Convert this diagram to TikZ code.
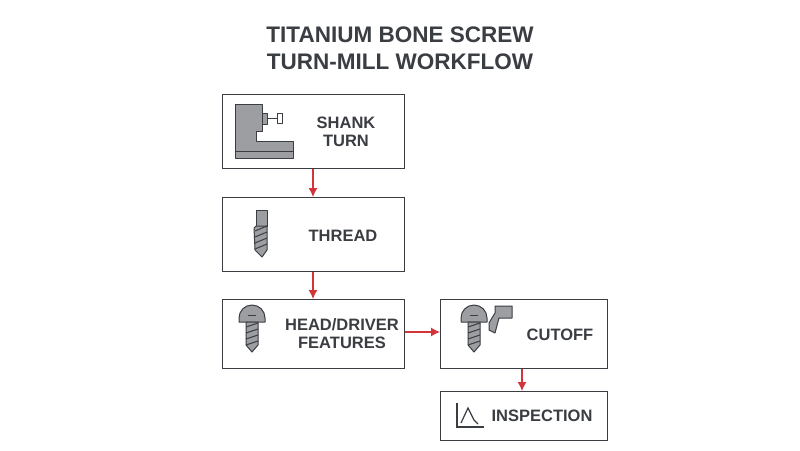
\documentclass[tikz,border=0pt]{standalone}
\usepackage{fontspec}
\setmainfont{Liberation Sans}
\usetikzlibrary{arrows.meta}
\begin{document}
\begin{tikzpicture}[x=1pt,y=-1pt,
 box/.style={draw=dk,line width=1.4pt,fill=white},
 lab/.style={font=\bfseries\fontsize{16.5}{18}\selectfont,text=dk,align=center},
 arr/.style={draw=rd,line width=1.3pt,-{Latex[length=9pt,width=9pt]}},
 ic/.style={fill=gy,draw=dk,line width=1pt,line join=round}]
\definecolor{dk}{HTML}{3A3D42}\definecolor{gy}{HTML}{9C9EA2}\definecolor{rd}{HTML}{D2343A}
\useasboundingbox (0,0) rectangle (800,450);
\fill[white] (0,0) rectangle (800,450);
\node[font=\bfseries\fontsize{22.5}{27}\selectfont,text=dk,align=center] (title) at (400,48) {TITANIUM BONE SCREW\\TURN-MILL WORKFLOW};
\node[box,minimum width=182,minimum height=74,anchor=north west] (b1) at (222,94) {};
\node[box,minimum width=182,minimum height=74,anchor=north west] (b2) at (222,197) {};
\node[box,minimum width=182,minimum height=69,anchor=north west] (b3) at (222,299) {};
\node[box,minimum width=167,minimum height=69,anchor=north west] (b4) at (440,299) {};
\node[box,minimum width=167,minimum height=49,anchor=north west] (b5) at (440,391) {};
\node[lab] (t1) at (346,132) {SHANK\\TURN};
\node[lab] (t2) at (343,236) {THREAD};
\node[lab] (t3) at (342,334) {HEAD/DRIVER\\FEATURES};
\node[lab] (t4) at (560,335) {CUTOFF};
\node[lab] (t5) at (542,416) {INSPECTION};
\draw[arr] (b1.south-|313,0) -- (b2.north-|313,0);
\draw[arr] (b2.south-|313,0) -- (b3.north-|313,0);
\draw[arr] (b3.east|-0,332) -- (b4.west|-0,332);
\draw[arr] (b4.south-|522,0) -- (b5.north-|522,0);
% icon 1 lathe
\draw[ic] (235,104) -- (262,104) -- (262,131) -- (256,131) -- (256,141) -- (293,141) -- (293,158) -- (235,158) -- cycle;
\draw[dk,line width=1pt] (235,151) -- (293,151);
\draw[ic] (262,113) rectangle (267,124);
\draw[dk,line width=1pt] (267,118) -- (277,118);
\draw[ic,fill=white] (277,113) rectangle (282,123);
% icon 2 drill
\draw[ic] (256,210) rectangle (267,226);
\draw[ic] (256,226) -- (267,226) -- (267,250) -- (262,257) -- (255,250) -- (254,228) -- cycle;
\foreach \y in {231,237,243,249} \draw[dk,line width=1pt] (255,\y) -- (267,\y-5);
% screw icon
\newcommand\screwicon[2]{%
\draw[ic] (#1-13,#2+12) -- (#1-13,#2+8) arc[start angle=180,end angle=360,radius=13] -- (#1+13,#2+12) -- cycle;
\draw[dk,line width=1pt] (#1-4,#2+5) -- (#1+4,#2+5);
\draw[ic] (#1-6,#2+12) -- (#1+6,#2+12) -- (#1+6,#2+35) -- (#1,#2+42) -- (#1-6,#2+35) -- cycle;
\foreach \d in {17,23,29,35} \draw[dk,line width=1pt] (#1-6,#2+\d) -- (#1+6,#2+\d-4);}
\screwicon{252}{310}
\screwicon{474}{310}
\draw[ic] (489,323) -- (495,313) -- (495,306) -- (512,306) -- (512,318) -- (499,318) -- (495,333) -- (489,330) -- cycle;
% inspection
\draw[dk,line width=1.2pt] (457,403) -- (457,427) -- (484,427);
\draw[dk,line width=1.2pt] (461,423) -- (468,408) -- (474,420) -- (478,424);
\end{tikzpicture}
\end{document}
